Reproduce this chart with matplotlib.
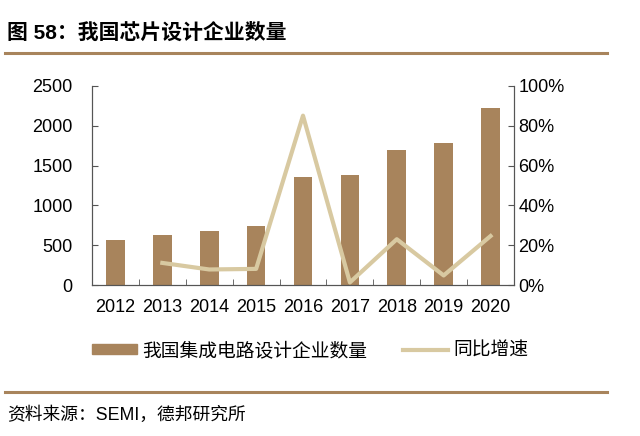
import numpy as np
import matplotlib
matplotlib.use('Agg')
import matplotlib.pyplot as plt
from matplotlib.lines import Line2D
from matplotlib.patches import Patch

plt.rcParams['font.family'] = ['Liberation Sans', 'Noto Sans CJK SC', 'DejaVu Sans']

years = ['2012', '2013', '2014', '2015', '2016', '2017', '2018', '2019', '2020']
companies = [569, 632, 681, 736, 1362, 1380, 1698, 1780, 2218]
growth = [None, 11.1, 7.8, 8.1, 85.1, 1.3, 23.0, 4.8, 24.6]

bar_color = '#a8845c'
line_color = '#d8c9a1'
spine_color = '#555555'

fig = plt.figure(figsize=(6.4, 4.36), dpi=100)
ax = fig.add_axes([92/640, 1-285/436, (514-92)/640, (285-86)/436])
x = np.arange(len(years))
ax.bar(x, companies, width=0.4, color=bar_color, zorder=2)
ax.set_xlim(-0.5, len(years)-0.5)
ax.set_ylim(0, 2500)
ax.set_yticks(np.arange(0, 2501, 500))

ax2 = ax.twinx()
gx = [i for i, g in enumerate(growth) if g is not None]
gy = [g for g in growth if g is not None]
ax2.plot(gx, gy, color=line_color, linewidth=3, zorder=3)
ax2.set_ylim(0, 100)
ax2.set_yticks(np.arange(0, 101, 20))
ax2.set_yticklabels([f'{v}%' for v in range(0, 101, 20)])

for a in (ax, ax2):
    a.spines['top'].set_visible(False)
    for s in ('left', 'right', 'bottom'):
        a.spines[s].set_color(spine_color)
        a.spines[s].set_linewidth(0.8)

ax.set_xticks(x)
ax.set_xticklabels(years)
ax.set_xticks(np.arange(-0.5, len(years)), minor=True)
ax.tick_params(axis='x', which='major', length=0, pad=10, labelsize=13)
ax.tick_params(axis='x', which='minor', direction='in', length=4, color=spine_color)
ax.tick_params(axis='y', direction='in', length=4, pad=14, labelsize=13, color=spine_color)
ax2.tick_params(axis='y', direction='in', length=4, pad=3, labelsize=13, color=spine_color)

# title and rules
fig.text(7/640, 1-33/436, '图 58：我国芯片设计企业数量', fontsize=15, fontweight='bold',
         va='center', ha='left')
fig.add_artist(Line2D([5/640, 607/640], [1-53/436, 1-53/436], color=bar_color, linewidth=2.2))
fig.add_artist(Line2D([5/640, 607/640], [1-392/436, 1-392/436], color=bar_color, linewidth=2.2))
fig.text(7/640, 1-415/436, '资料来源：SEMI，德邦研究所', fontsize=12.8, va='center', ha='left')

handles = [Patch(color=bar_color), Line2D([0], [0], color=line_color, linewidth=3)]
labels = ['我国集成电路设计企业数量', '同比增速']
fig.legend(handles, labels, loc='center', bbox_to_anchor=(310/640, 1-351/436), ncol=2,
           frameon=False, fontsize=13.5, handlelength=2.4, handleheight=0.45,
           columnspacing=1.9, handletextpad=0.3)

fig.savefig('out.png', dpi=100)
